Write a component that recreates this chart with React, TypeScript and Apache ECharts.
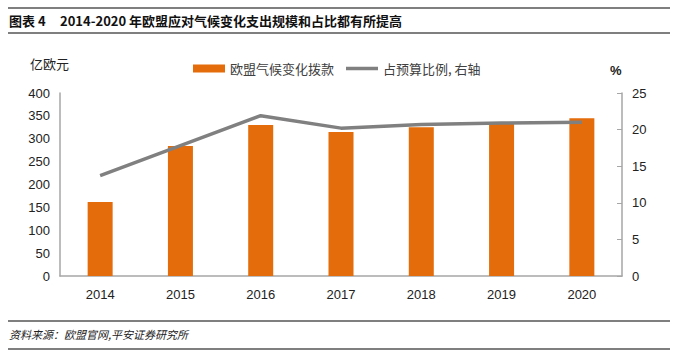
import React, { useEffect, useRef } from "react";
import * as echarts from "echarts";

const years = ["2014", "2015", "2016", "2017", "2018", "2019", "2020"];
const funding = [162, 284, 330, 315, 325, 334, 345];
const sharePct = [13.7, 17.8, 21.9, 20.2, 20.7, 20.9, 21.0];
const leftTicks = { min: 0, max: 400, interval: 50 };
const rightTicks = { min: 0, max: 25, interval: 5 };

const FONT = "'Liberation Sans', Arial, 'Noto Sans CJK SC', sans-serif";
const CJK = "'Noto Sans CJK SC', sans-serif";

export default function App() {
  const ref = useRef<HTMLDivElement>(null);
  useEffect(() => {
    document.body.style.margin = "0";
    const chart = echarts.init(ref.current!, null, { renderer: "svg" });
    chart.setOption({
      animation: false,
      backgroundColor: "#ffffff",
      grid: { left: 60, right: 57, top: 93, bottom: 78 },
      legend: {
        left: 188,
        top: 57,
        itemGap: 12,
        itemWidth: 32,
        itemHeight: 8,
        textStyle: { fontFamily: CJK, fontSize: 13, color: "#404040" },
        data: [
          { name: "欧盟气候变化拨款", icon: "rect" },
          { name: "占预算比例, 右轴", icon: "path://M0 0H32V3.5H0Z" },
        ],
      },
      xAxis: {
        type: "category",
        data: years,
        axisLine: { lineStyle: { color: "#a6a6a6", width: 1.5 } },
        axisTick: { show: false },
        axisLabel: { fontFamily: FONT, fontSize: 13, color: "#222", margin: 12 },
      },
      yAxis: [
        {
          type: "value",
          ...leftTicks,
          axisLine: { show: true, lineStyle: { color: "#a6a6a6", width: 1.5 } },
          axisTick: { show: false },
          splitLine: { show: false },
          axisLabel: { fontFamily: FONT, fontSize: 13, color: "#222", margin: 10 },
        },
        {
          type: "value",
          ...rightTicks,
          position: "right",
          axisLine: { show: true, lineStyle: { color: "#a6a6a6", width: 1.5 } },
          axisTick: { show: true, inside: true, length: 5, lineStyle: { color: "#a6a6a6" } },
          splitLine: { show: false },
          axisLabel: { fontFamily: FONT, fontSize: 13, color: "#222", margin: 10 },
        },
      ],
      series: [
        {
          name: "欧盟气候变化拨款",
          type: "bar",
          data: funding,
          barWidth: 25,
          itemStyle: { color: "#E46C0A" },
        },
        {
          name: "占预算比例, 右轴",
          type: "line",
          yAxisIndex: 1,
          data: sharePct,
          symbol: "none",
          lineStyle: { color: "#808080", width: 3.5 },
          itemStyle: { color: "#808080" },
        },
      ],
      graphic: [
        { type: "line", shape: { x1: 8, y1: 8, x2: 670, y2: 8 }, style: { stroke: "#000", lineWidth: 1.2 } },
        { type: "line", shape: { x1: 8, y1: 33, x2: 670, y2: 33 }, style: { stroke: "#000", lineWidth: 1.2 } },
        {
          type: "text",
          x: 9,
          y: 20,
          style: { text: "图表 4", font: `bold 13px ${CJK}`, fill: "#111", verticalAlign: "middle" },
        },
        {
          type: "text",
          x: 60,
          y: 20,
          style: {
            text: "2014-2020 年欧盟应对气候变化支出规模和占比都有所提高",
            font: `bold 13px ${CJK}`,
            fill: "#111",
            verticalAlign: "middle",
          },
        },
        {
          type: "text",
          x: 30,
          y: 63,
          style: { text: "亿欧元", font: `13px ${CJK}`, fill: "#222", verticalAlign: "middle" },
        },
        {
          type: "text",
          x: 610,
          y: 70,
          style: { text: "%", font: `bold 13px ${FONT}`, fill: "#222", verticalAlign: "middle" },
        },
        { type: "line", shape: { x1: 8, y1: 321, x2: 670, y2: 321 }, style: { stroke: "#000", lineWidth: 1.2 } },
        { type: "line", shape: { x1: 8, y1: 349, x2: 670, y2: 349 }, style: { stroke: "#000", lineWidth: 1.2 } },
        {
          type: "text",
          x: 9,
          y: 334,
          style: {
            text: "资料来源：欧盟官网,平安证券研究所",
            font: `italic 11px ${CJK}`,
            fill: "#222",
            verticalAlign: "middle",
          },
        },
      ],
    });
    return () => chart.dispose();
  }, []);
  return <div ref={ref} style={{ width: 679, height: 354 }} />;
}
